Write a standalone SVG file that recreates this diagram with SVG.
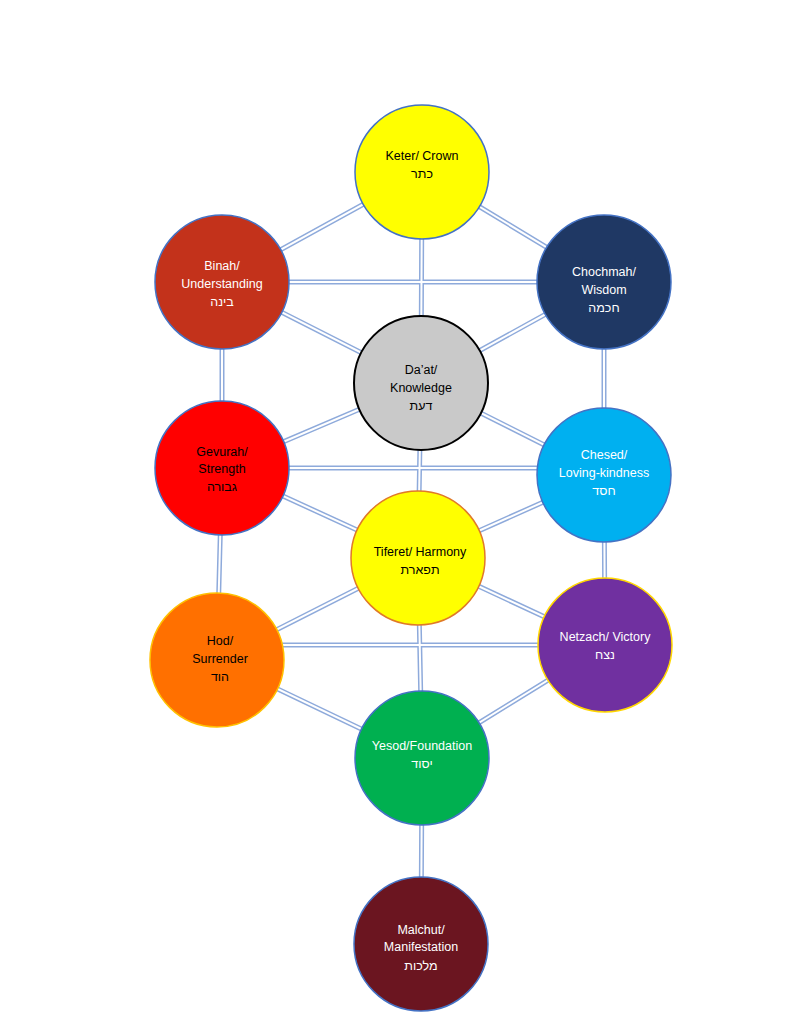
<svg xmlns="http://www.w3.org/2000/svg" width="791" height="1024" viewBox="0 0 791 1024">
<style>
.c{stroke:#4472c4;stroke-width:1.5}
.t{font-family:"Liberation Sans","DejaVu Sans",sans-serif;font-size:12.5px;text-anchor:middle}
.w{fill:#fff}.k{fill:#000}
.o{stroke:#8eaadb;stroke-width:5;fill:none}
.i{stroke:#fff;stroke-width:2;fill:none}
</style>
<rect width="791" height="1024" fill="#fff"/>
<g id="connectors">
<path id="e" class="o" d="M422,172L222,282M422,172L604,282M422,172L421,383M222,282L604,282M222,282L421,383M604,282L421,383M222,282L222,468M604,282L604,475M222,468L421,383M604,475L421,383M222,468L604,468M222,468L418,558M604,475L418,558M421,383L418,558M222,468L217,660M604,475L605,645M418,558L217,660M418,558L605,645M217,645L605,645M418,558L422,758M217,660L422,758M605,645L422,758M422,758L421,944"/>
<path class="i" d="M422,172L222,282M422,172L604,282M422,172L421,383M222,282L604,282M222,282L421,383M604,282L421,383M222,282L222,468M604,282L604,475M222,468L421,383M604,475L421,383M222,468L604,468M222,468L418,558M604,475L418,558M421,383L418,558M222,468L217,660M604,475L605,645M418,558L217,660M418,558L605,645M217,645L605,645M418,558L422,758M217,660L422,758M605,645L422,758M422,758L421,944"/>
</g>
<g id="keter"><circle class="c" cx="422" cy="172" r="67" fill="#ffff00"/><text class="t k" x="422" y="160">Keter/ Crown</text><text class="t k" x="422" y="178">כתר</text></g>
<g id="binah"><circle class="c" cx="222" cy="282" r="67" fill="#c3321b"/><text class="t w" x="222" y="270">Binah/</text><text class="t w" x="222" y="288">Understanding</text><text class="t w" x="222" y="306">בינה</text></g>
<g id="chochmah"><circle class="c" cx="604" cy="282" r="67" fill="#1f3864"/><text class="t w" x="604" y="276">Chochmah/</text><text class="t w" x="604" y="294">Wisdom</text><text class="t w" x="604" y="312">חכמה</text></g>
<g id="daat"><circle cx="421" cy="383" r="67" fill="#c9c9c9" stroke="#000" stroke-width="2"/><text class="t k" x="421" y="374">Da’at/</text><text class="t k" x="421" y="392">Knowledge</text><text class="t k" x="421" y="410">דעת</text></g>
<g id="gevurah"><circle class="c" cx="222" cy="468" r="67" fill="#ff0000"/><text class="t k" x="222" y="456">Gevurah/</text><text class="t k" x="222" y="473">Strength</text><text class="t k" x="222" y="491">גבורה</text></g>
<g id="chesed"><circle class="c" cx="604" cy="475" r="67" fill="#00b0f0"/><text class="t w" x="604" y="459">Chesed/</text><text class="t w" x="604" y="477">Loving-kindness</text><text class="t w" x="604" y="495">חסד</text></g>
<g id="tiferet"><circle cx="418" cy="558" r="67" fill="#ffff00" stroke="#e07a28" stroke-width="1.5"/><text class="t k" x="420" y="556">Tiferet/ Harmony</text><text class="t k" x="420" y="574">תפארת</text></g>
<g id="hod"><circle cx="217" cy="660" r="67" fill="#ff7000" stroke="#ffc000" stroke-width="1.5"/><text class="t k" x="220" y="645">Hod/</text><text class="t k" x="220" y="663">Surrender</text><text class="t k" x="220" y="681">הוד</text></g>
<g id="netzach"><circle cx="605" cy="645" r="67" fill="#7030a0" stroke="#ffd700" stroke-width="1.5"/><text class="t w" x="605" y="641">Netzach/ Victory</text><text class="t w" x="605" y="659">נצח</text></g>
<g id="yesod"><circle class="c" cx="422" cy="758" r="67" fill="#00b050"/><text class="t w" x="422" y="750">Yesod/Foundation</text><text class="t w" x="422" y="768">יסוד</text></g>
<g id="malchut"><circle class="c" cx="421" cy="944" r="67" fill="#6b1520"/><text class="t w" x="421" y="934">Malchut/</text><text class="t w" x="421" y="951">Manifestation</text><text class="t w" x="421" y="970">מלכות</text></g>
</svg>
